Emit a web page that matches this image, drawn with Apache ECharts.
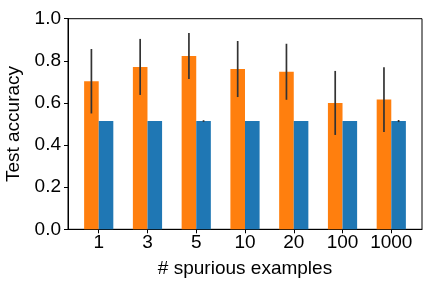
<!DOCTYPE html>
<html>
<head>
<meta charset="utf-8">
<script src="https://cdn.jsdelivr.net/npm/echarts@6/dist/echarts.min.js"></script>
<style>html,body{margin:0;padding:0;background:#fff;}#c{width:432px;height:288px;}</style>
</head>
<body>
<div id="c"></div>
<script>
const categories = ['1', '3', '5', '10', '20', '100', '1000'];
const orangeMean = [0.703, 0.771, 0.823, 0.761, 0.748, 0.600, 0.616];
const orangeErr  = [0.153, 0.133, 0.109, 0.133, 0.133, 0.152, 0.154];
const blueMean   = [0.514, 0.514, 0.514, 0.514, 0.514, 0.514, 0.514];
const blueErr    = [0.0, 0.0, 0.004, 0.0, 0.0, 0.0, 0.005];

const idx = categories.map((_, i) => i);
const FONT = 'Liberation Sans';
const chart = echarts.init(document.getElementById('c'), null, {renderer: 'canvas'});

function errItem(params, api) {
  const x = api.value(0), lo = api.value(1), hi = api.value(2);
  const p1 = api.coord([x, lo]), p2 = api.coord([x, hi]);
  return {type: 'line', shape: {x1: p1[0], y1: p1[1], x2: p2[0], y2: p2[1]},
          style: {stroke: '#333', lineWidth: 1.7}};
}

chart.setOption({
  animation: false,
  grid: {left: 68, top: 18.7, width: 354, height: 210.6, outerBoundsMode: 'none', containLabel: false,
         show: true, borderColor: '#000', borderWidth: 1, backgroundColor: 'transparent'},
  xAxis: {
    type: 'value', min: -0.63, max: 6.63,
    axisLine: {show: true, onZero: false, lineStyle: {color: '#000', width: 1}},
    axisTick: {show: true, customValues: idx, length: 4, lineStyle: {color: '#000'}},
    axisLabel: {customValues: idx, formatter: v => categories[Math.round(v)] || '', color: '#000', fontSize: 19, fontFamily: FONT, margin: 4},
    splitLine: {show: false},
    name: '# spurious examples', nameLocation: 'middle', nameGap: 30,
    nameTextStyle: {color: '#000', fontSize: 19, fontFamily: FONT}
  },
  yAxis: {
    type: 'value', min: 0, max: 1, interval: 0.2,
    axisLine: {show: true, onZero: false, lineStyle: {color: '#000', width: 1}},
    axisTick: {show: true, length: 4, lineStyle: {color: '#000'}},
    axisLabel: {formatter: v => v.toFixed(1), color: '#000', fontSize: 19, fontFamily: FONT, margin: 7},
    splitLine: {show: false},
    name: 'Test accuracy', nameLocation: 'middle', nameGap: 39,
    nameTextStyle: {color: '#000', fontSize: 19, fontFamily: FONT}
  },
  series: [
    {type: 'bar', data: idx.map(i => [i, orangeMean[i]]), barWidth: 14.6, barGap: '0%', itemStyle: {color: '#ff7f0e'}},
    {type: 'bar', data: idx.map(i => [i, blueMean[i]]), barWidth: 14.6, barGap: '0%', itemStyle: {color: '#1f77b4'}},
    {type: 'custom', renderItem: errItem, z: 10, data: idx.map(i => [i - 0.15, orangeMean[i] - orangeErr[i], orangeMean[i] + orangeErr[i]])},
    {type: 'custom', renderItem: errItem, z: 10, data: idx.map(i => [i + 0.15, blueMean[i] - blueErr[i], blueMean[i] + blueErr[i]])}
  ]
});
</script>
</body>
</html>
